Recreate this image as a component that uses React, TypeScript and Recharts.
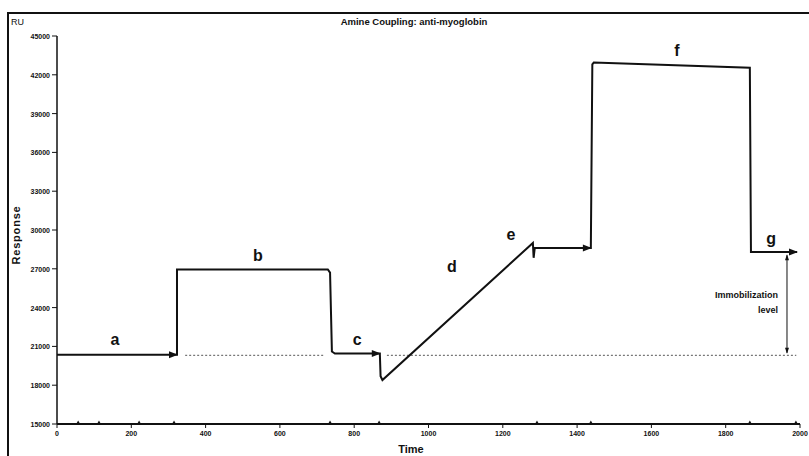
import { ComposedChart, Line, XAxis, YAxis } from "recharts";

// sensorgram trace (time in s, response in RU)
const traceTime = [0, 323, 323, 729, 735, 740, 748, 869, 871, 876, 1281, 1283, 1286, 1437, 1441, 1445, 1865, 1868, 1872, 1992];
const traceRU = [20350, 20350, 26950, 26950, 26700, 20600, 20450, 20450, 18700, 18400, 29000, 27850, 28600, 28600, 42800, 42950, 42550, 28300, 28300, 28300];
const arrowAt = [1, 7, 13, 19];

// dotted baseline before activation
const baseTime = [345, 720, 800, 888, 1990];
const baseRU = [20300, 20300, null, 20300, 20300];

// step labels
const stepNames = ["a", "b", "c", "d", "e", "f", "g"];
const stepTime = [156, 541, 808, 1063, 1222, 1669, 1922];
const stepRU = [21450, 27900, 21400, 27060, 29540, 43770, 29230];

// injection markers on the time axis
const markerTime = [57, 113, 221, 315, 735, 867, 1292, 1437, 1865, 1989];

// immobilization level double arrow
const immTime = [1965, 1965];
const immRU = [28050, 20500];

const yTicks = [15000, 18000, 21000, 24000, 27000, 30000, 33000, 36000, 39000, 42000, 45000];
const xTicks = [0, 200, 400, 600, 800, 1000, 1200, 1400, 1600, 1800, 2000];

const trace = traceTime.map((t, i) => ({ t, ru: traceRU[i], arrow: arrowAt.includes(i) }));
const baseline = baseTime.map((t, i) => ({ t, ru: baseRU[i] }));
const steps = stepNames.map((name, i) => ({ t: stepTime[i], ru: stepRU[i], name }));
const markers = markerTime.map((t) => ({ t, ru: 15000 }));
const imm = immTime.map((t, i) => ({ t, ru: immRU[i], dir: i === 0 ? "up" : "down" }));

const ink = "#111";
const narrow = "'Liberation Sans Narrow', 'Liberation Sans', Arial, sans-serif";
const sans = "'Liberation Sans', Arial, sans-serif";

const ArrowDot = (p: any) => {
  if (!p.payload.arrow) return <g key={p.index} />;
  const { cx, cy } = p;
  return <path key={p.index} d={`M${cx - 8},${cy - 3.5} L${cx + 1},${cy} L${cx - 8},${cy + 3.5} Z`} fill={ink} />;
};

const StepLabel = (p: any) => (
  <text key={p.index} x={p.cx} y={p.cy} textAnchor="middle" dominantBaseline="middle"
    fontFamily={sans} fontSize={16} fontWeight="bold" fill={ink}>
    {p.payload.name}
  </text>
);

const Marker = (p: any) => (
  <path key={p.index} d={`M${p.cx - 2},${p.cy} L${p.cx},${p.cy - 3.5} L${p.cx + 2},${p.cy} Z`} fill={ink} />
);

const ImmDot = (p: any) => {
  const { cx, cy } = p;
  if (p.payload.dir === "up") {
    return <path key={p.index} d={`M${cx - 2},${cy + 5} L${cx},${cy - 1} L${cx + 2},${cy + 5} Z`} fill={ink} />;
  }
  return (
    <g key={p.index}>
      <path d={`M${cx - 2},${cy - 5} L${cx},${cy + 1} L${cx + 2},${cy - 5} Z`} fill={ink} />
      <text x={cx - 9} y={cy - 55} textAnchor="end" fontFamily={narrow} fontSize={9} fontWeight="bold" fill={ink}>
        Immobilization
      </text>
      <text x={cx - 9} y={cy - 40} textAnchor="end" fontFamily={narrow} fontSize={9} fontWeight="bold" fill={ink}>
        level
      </text>
    </g>
  );
};

const YTick = (p: any) => {
  const { x, y, payload } = p;
  return (
    <g>
      <line x1={x + 2} x2={x + 7} y1={y} y2={y} stroke={ink} strokeWidth={1} />
      <text x={x} y={y} dy={3} textAnchor="end" fontFamily={narrow} fontSize={7} fontWeight="bold" fill={ink}>
        {payload.value}
      </text>
    </g>
  );
};

export default function App() {
  return (
    <div style={{ position: "fixed", left: 0, top: 0, width: 809, height: 456, background: "#fff", overflow: "hidden" }}>
      <div style={{ position: "absolute", left: 7, top: 12, width: 820, height: 460, borderTop: `2px solid ${ink}`, borderLeft: `2px solid ${ink}` }} />
      <svg width={809} height={456} style={{ position: "absolute", left: 0, top: 0 }}>
        <text x={414} y={25} textAnchor="middle" fontFamily={sans} fontSize={9.5} fontWeight="bold" fill={ink}>
          Amine Coupling: anti-myoglobin
        </text>
        <text x={11} y={25} fontFamily={sans} fontSize={9} fill={ink}>RU</text>
        <text x={20} y={235} transform="rotate(-90 20 235)" textAnchor="middle" fontFamily={sans}
          fontSize={11} fontWeight="bold" letterSpacing={0.8} fill={ink}>
          Response
        </text>
        <text x={411} y={453} textAnchor="middle" fontFamily={sans} fontSize={11} fontWeight="bold" fill={ink}>
          Time
        </text>
      </svg>
      <div style={{ position: "absolute", left: 0, top: 0 }}>
        <ComposedChart width={809} height={456} margin={{ top: 36, right: 9, bottom: 2, left: 0 }}>
          <XAxis type="number" dataKey="t" domain={[0, 2000]} ticks={xTicks} height={30}
            axisLine={{ stroke: ink, strokeWidth: 2 }} tickLine={{ stroke: ink }} tickSize={4} tickMargin={3}
            tick={{ fill: ink, fontSize: 7, fontFamily: narrow, fontWeight: "bold" }} allowDataOverflow />
          <YAxis type="number" domain={[15000, 45000]} ticks={yTicks} width={57}
            axisLine={{ stroke: ink, strokeWidth: 1.5 }} tickLine={false} tickSize={5} tickMargin={2}
            tick={<YTick />} allowDataOverflow />
          <Line data={baseline} dataKey="ru" stroke="#777" strokeWidth={1.2} strokeDasharray="2 2"
            dot={false} connectNulls={false} isAnimationActive={false} />
          <Line data={trace} dataKey="ru" stroke={ink} strokeWidth={2} dot={ArrowDot}
            activeDot={false} isAnimationActive={false} />
          <Line data={imm} dataKey="ru" stroke={ink} strokeWidth={1} dot={ImmDot}
            activeDot={false} isAnimationActive={false} />
          <Line data={markers} dataKey="ru" stroke="none" dot={Marker} activeDot={false} isAnimationActive={false} />
          <Line data={steps} dataKey="ru" stroke="none" dot={StepLabel} activeDot={false} isAnimationActive={false} />
        </ComposedChart>
      </div>
    </div>
  );
}
